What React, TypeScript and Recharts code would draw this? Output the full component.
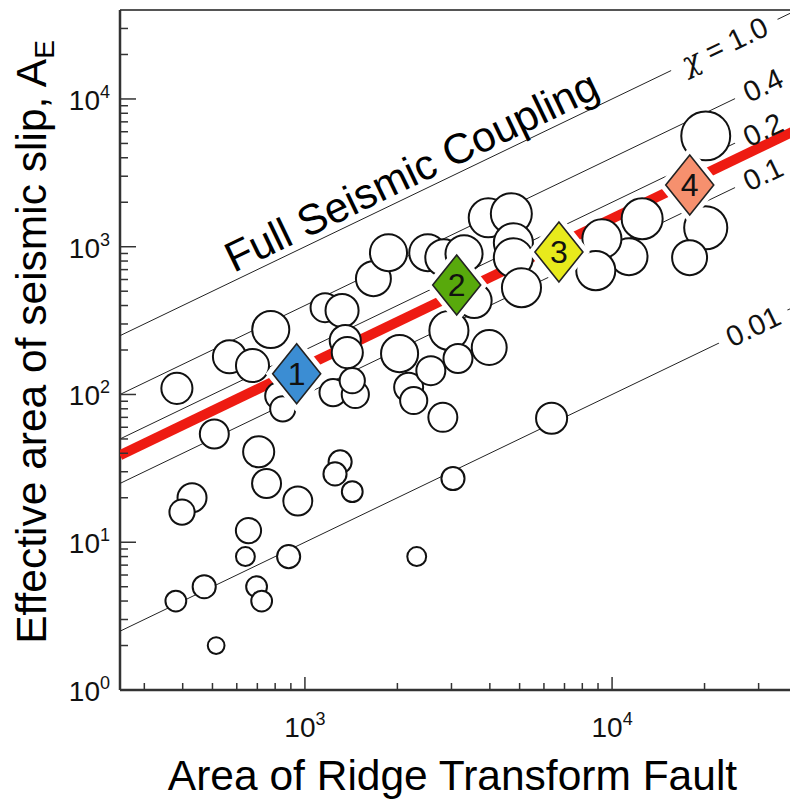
import React from 'react';
import { ScatterChart, Scatter, XAxis, YAxis, ZAxis, ReferenceLine } from 'recharts';

// individual ridge transform faults (open circles)
const faultArea = [383, 568, 675, 774, 822, 847, 507, 707, 750, 429, 398, 948, 655, 640, 885, 470, 380, 696, 723, 514, 1163, 1321, 1353, 1374, 1235, 1459, 1426, 1302, 1253, 1426, 1671, 1871, 2033, 2176, 2260, 2570, 2812, 2512, 2833, 3296, 2943, 3150, 3556, 3981, 3953, 4699, 4772, 4772, 5070, 3034, 6355, 2312, 20180, 20180, 17880, 12530, 11350, 9265, 8850];
const seismicArea = [110, 180, 157, 275, 98, 80, 54, 41, 25, 20, 16, 19, 12, 8, 8, 5, 4, 5, 4, 2, 387, 370, 232, 192, 103, 100, 124, 35, 29, 22, 608, 911, 189, 112, 91, 145, 70, 911, 843, 897, 271, 175, 432, 208, 1570, 1671, 1064, 843, 528, 27, 69, 8, 5623, 1343, 843, 1545, 856, 1132, 689];
const markerWeight = [38, 43, 43, 54, 29, 25, 33, 38, 33, 33, 25, 33, 25, 14, 21, 21, 17, 17, 17, 11, 33, 43, 38, 38, 29, 29, 25, 21, 21, 17, 48, 54, 54, 33, 29, 33, 33, 54, 54, 54, 60, 33, 48, 48, 60, 66, 60, 60, 60, 21, 38, 14, 94, 73, 48, 66, 54, 60, 60];

// binned groups (numbered diamonds)
const groupArea = [940, 3120, 6714, 17900];
const groupSeismic = [138, 551, 921, 2618];
const groupLabels = ['1', '2', '3', '4'];

// seismic coupling lines, A_E = chi * A
const couplingValues = [1.0, 0.4, 0.2, 0.1, 0.01];
const couplingLabels = ['= 1.0', '0.4', '0.2', '0.1', '0.01'];
const fitCoupling = 0.155;

const xMajor = [1000, 10000];
const xMinor = [300, 400, 500, 600, 700, 800, 900, 2000, 3000, 4000, 5000, 6000, 7000, 8000, 9000, 20000, 30000];
const yMajor = [1, 10, 100, 1000, 10000];
const yMinor = [2, 3, 4, 5, 6, 7, 8, 9, 20, 30, 40, 50, 60, 70, 80, 90, 200, 300, 400, 500, 600, 700, 800, 900, 2000, 3000, 4000, 5000, 6000, 7000, 8000, 9000, 20000, 30000];

const X_DOMAIN = [250, 40000];
const Y_DOMAIN = [1, 40000];
const FONT = '"Liberation Sans", Arial, Helvetica, sans-serif';
const ANGLE = 25.7;
const GROUP_COLORS = ['#3b8dd3', '#58a90c', '#e8ea1c', '#f6906e'];
const LABEL_X = [23200, 31000, 31000, 31000, 28800];
const AXIS = '#333';

const circles = faultArea.map((x, i) => ({ x, y: seismicArea[i], z: markerWeight[i] }));
const groups = groupArea.map((x, i) => ({ x, y: groupSeismic[i], label: groupLabels[i], idx: i }));
const couplingLines = couplingValues.map((c) => X_DOMAIN.map((x) => ({ x, y: c * x })));
const fitLine = X_DOMAIN.map((x) => ({ x, y: fitCoupling * x }));
const couplingTags = couplingValues.map((c, i) => ({ x: LABEL_X[i], y: c * LABEL_X[i], text: couplingLabels[i], chi: i === 0 }));
const titleAnchor = [{ x: 586, y: 664 }];

const XTick = (props: any) => {
  const { x, y, payload } = props;
  const v = payload.value;
  const major = xMajor.includes(v);
  return (
    <g>
      <line x1={x} y1={y} x2={x} y2={y - (major ? 13 : 7)} stroke={AXIS} strokeWidth={1.5} />
      {major && (
        <text x={x} y={y + 47} textAnchor="middle" fontSize={28} fill="#111" fontFamily={FONT}>
          10<tspan dy={-12} fontSize={18}>{Math.round(Math.log10(v))}</tspan>
        </text>
      )}
    </g>
  );
};

const YTick = (props: any) => {
  const { x, y, payload } = props;
  const v = payload.value;
  const major = yMajor.includes(v);
  return (
    <g>
      <line x1={x} y1={y} x2={x + (major ? 16 : 8)} y2={y} stroke={AXIS} strokeWidth={1.5} />
      {major && (
        <text x={x - 10} y={y + 11} textAnchor="end" fontSize={28} fill="#111" fontFamily={FONT}>
          10<tspan dy={-12} fontSize={18}>{Math.round(Math.log10(v))}</tspan>
        </text>
      )}
    </g>
  );
};

const XTitle = (props: any) => {
  const vb = props.viewBox;
  return (
    <text x={vb.x + vb.width / 2 - 6} y={790} textAnchor="middle" fontSize={42.5} fill="#000" fontFamily={FONT}>
      Area of Ridge Transform Fault
    </text>
  );
};

const YTitle = (props: any) => {
  const vb = props.viewBox;
  const cy = vb.y + vb.height / 2 - 8;
  return (
    <text transform={`translate(${vb.x + 46},${cy}) rotate(-90)`} textAnchor="middle" fontSize={42.5} fill="#000" fontFamily={FONT}>
      Effective area of seismic slip, A<tspan dy={8} fontSize={28}>E</tspan>
    </text>
  );
};

const Diamond = (props: any) => {
  const { cx, cy, payload } = props;
  const hw = 24;
  const hh = 30;
  const pts = `${cx},${cy - hh} ${cx + hw},${cy} ${cx},${cy + hh} ${cx - hw},${cy}`;
  return (
    <g>
      <polygon points={pts} fill="#fff" stroke="#fff" strokeWidth={11} />
      <polygon points={pts} fill={GROUP_COLORS[payload.idx]} stroke="#222" strokeWidth={1.6} />
      <text x={cx} y={cy + 11} textAnchor="middle" fontSize={32} fill="#111" fontFamily={FONT}>
        {payload.label}
      </text>
    </g>
  );
};

const CouplingTag = (props: any) => {
  const { cx, cy, payload } = props;
  const w = (payload.text.length + (payload.chi ? 2 : 0)) * 14 + 20;
  return (
    <g transform={`translate(${cx},${cy}) rotate(${-ANGLE})`}>
      <rect x={-w / 2} y={-4} width={w} height={8} fill="#fff" />
      <text x={0} y={10} textAnchor="middle" fontSize={29} fill="#111" fontFamily={FONT}>
        {payload.chi && (
          <tspan fontFamily='"DejaVu Serif", serif' fontStyle="italic">{'\u03c7 '}</tspan>
        )}
        {payload.text}
      </text>
    </g>
  );
};

const CouplingTitle = (props: any) => {
  const { cx, cy } = props;
  return (
    <text transform={`translate(${cx},${cy}) rotate(${-ANGLE})`} fontSize={42.5} fill="#000" fontFamily={FONT}>
      Full Seismic Coupling
    </text>
  );
};

const noShape = () => <g />;

export default function App() {
  return (
    <div style={{ position: 'absolute', left: 0, top: 0, width: 790, height: 799, overflow: 'hidden', background: '#fff' }}>
      <ScatterChart width={804} height={799} margin={{ top: 10, right: 7, bottom: 0, left: 0 }}>
        <XAxis
          dataKey="x"
          type="number"
          scale="log"
          domain={X_DOMAIN}
          allowDataOverflow
          ticks={[...xMinor, ...xMajor]}
          interval={0}
          height={109}
          tickSize={0}
          tickMargin={0}
          tickLine={false}
          axisLine={{ stroke: AXIS, strokeWidth: 2.5 }}
          tick={<XTick />}
          label={<XTitle />}
        />
        <YAxis
          dataKey="y"
          type="number"
          scale="log"
          domain={Y_DOMAIN}
          allowDataOverflow
          ticks={[...yMinor, ...yMajor]}
          interval={0}
          width={120}
          tickSize={0}
          tickMargin={0}
          tickLine={false}
          axisLine={{ stroke: AXIS, strokeWidth: 2.5 }}
          tick={<YTick />}
          label={<YTitle />}
        />
        <ZAxis dataKey="z" type="number" domain={[0, 100]} range={[0, 2000]} />
        <ReferenceLine y={Y_DOMAIN[1]} stroke="#555" strokeWidth={2} />
        <ReferenceLine x={X_DOMAIN[1]} stroke="#555" strokeWidth={2} />
        {couplingLines.map((d, i) => (
          <Scatter key={'c' + i} data={d} line={{ stroke: '#222', strokeWidth: 1 }} shape={noShape} isAnimationActive={false} />
        ))}
        <Scatter data={fitLine} line={{ stroke: '#ee1b12', strokeWidth: 10 }} shape={noShape} isAnimationActive={false} />
        <Scatter data={circles} fill="#fff" stroke="#111" strokeWidth={2} shape="circle" isAnimationActive={false} />
        <Scatter data={groups} shape={<Diamond />} isAnimationActive={false} />
        <Scatter data={couplingTags} shape={<CouplingTag />} isAnimationActive={false} />
        <Scatter data={titleAnchor} shape={<CouplingTitle />} isAnimationActive={false} />
      </ScatterChart>
    </div>
  );
}
